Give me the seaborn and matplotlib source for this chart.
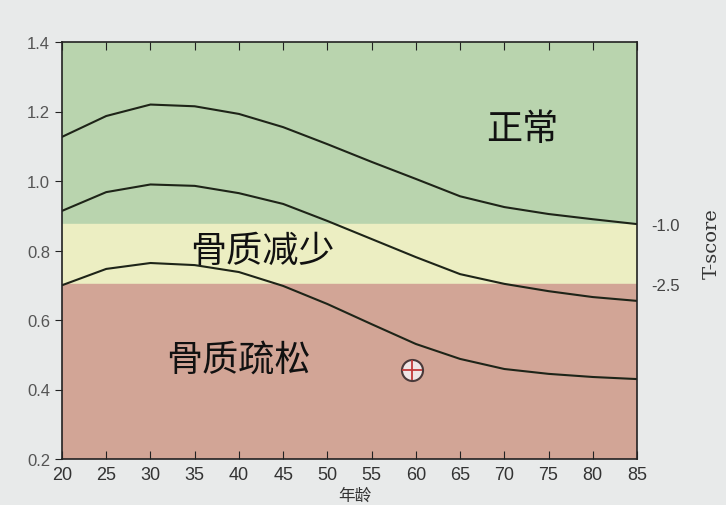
import pandas as pd
import matplotlib.pyplot as plt
import seaborn as sns

# reference curves (age vs BMD, g/cm2)
ages = [20, 25, 30, 35, 40, 45, 50, 55, 60, 65, 70, 75, 80, 85]
upper = [1.127, 1.187, 1.220, 1.215, 1.193, 1.155, 1.106, 1.055, 1.006, 0.956, 0.925, 0.905, 0.890, 0.876]
middle = [0.914, 0.968, 0.990, 0.986, 0.965, 0.934, 0.885, 0.833, 0.781, 0.732, 0.704, 0.683, 0.666, 0.655]
lower = [0.700, 0.747, 0.764, 0.758, 0.738, 0.698, 0.646, 0.588, 0.531, 0.488, 0.459, 0.445, 0.436, 0.430]

# zone limits (T-score -1.0 and -2.5)
t_score_labels = ["-1.0", "-2.5"]
t_score_bmd = [0.876, 0.704]
zone_names = ["正常", "骨质减少", "骨质疏松"]

patient_age = [59.6]
patient_bmd = [0.456]

df = pd.DataFrame({
    "age": ages * 3,
    "bmd": upper + middle + lower,
    "curve": ["upper"] * len(ages) + ["middle"] * len(ages) + ["lower"] * len(ages),
})

sns.set_style("ticks")
plt.rcParams["font.family"] = ["Noto Sans CJK SC", "DejaVu Sans"]
num_font = ["Liberation Sans", "DejaVu Sans"]

fig = plt.figure(figsize=(7.26, 5.06), dpi=100, facecolor="#e8eaea")
ax = fig.add_axes([62 / 726, 1 - 460 / 506, 575 / 726, 417 / 506])
ax.set_facecolor("#e8eaea")

ax.axhspan(t_score_bmd[0], 1.4, color="#b9d4ae", zorder=0)
ax.axhspan(t_score_bmd[1], t_score_bmd[0], color="#eceec2", zorder=0)
ax.axhspan(0.2, t_score_bmd[1], color="#d2a596", zorder=0)

sns.lineplot(data=df, x="age", y="bmd", units="curve", estimator=None,
             color="#1e2418", linewidth=1.5, ax=ax, legend=False)

sns.scatterplot(x=patient_age, y=patient_bmd, s=230, color="#efe6e6",
                edgecolor="#4a3a3a", linewidth=1.5, ax=ax, zorder=5)
sns.scatterplot(x=patient_age, y=patient_bmd, s=190, marker="+",
                color="#c23a3a", linewidth=1.3, ax=ax, zorder=6)

ax.set_xlim(20, 85)
ax.set_ylim(0.2, 1.4)
ax.set_xticks(range(20, 90, 5))
ax.set_yticks([0.2, 0.4, 0.6, 0.8, 1.0, 1.2, 1.4])
ax.set_yticklabels(["0.2", "0.4", "0.6", "0.8", "1.0", "1.2", "1.4"])
ax.tick_params(axis="x", direction="in", length=6, top=True, labelsize=13,
               colors="#222", labelcolor="#333", pad=5)
ax.tick_params(axis="y", direction="out", length=5, labelsize=12,
               colors="#222", labelcolor="#555")
for lab in ax.get_xticklabels() + ax.get_yticklabels():
    lab.set_family(num_font)
for s in ax.spines.values():
    s.set_color("#222")
    s.set_linewidth(1.2)
ax.set_xlabel("")
ax.set_ylabel("")

ax2 = ax.twinx()
ax2.set_ylim(0.2, 1.4)
ax2.set_yticks(t_score_bmd)
ax2.set_yticklabels(t_score_labels, family=num_font)
ax2.tick_params(axis="y", length=0, labelsize=12, labelcolor="#444", pad=10)
ax2.set_ylabel("T-score", fontsize=14, color="#333", family="DejaVu Serif")
ax2.yaxis.set_label_coords(1.115, 0.52)
for s in ax2.spines.values():
    s.set_visible(False)

ax.text(72.0, 1.15, zone_names[0], fontsize=26, color="#111", ha="center", va="center")
ax.text(42.7, 0.80, zone_names[1], fontsize=26, color="#111", ha="center", va="center")
ax.text(39.9, 0.485, zone_names[2], fontsize=26, color="#111", ha="center", va="center")

fig.text(355 / 726, 0.003, "年龄", fontsize=12, color="#333",
         ha="center", va="bottom")

fig.savefig("out.png", dpi=100, facecolor=fig.get_facecolor())
